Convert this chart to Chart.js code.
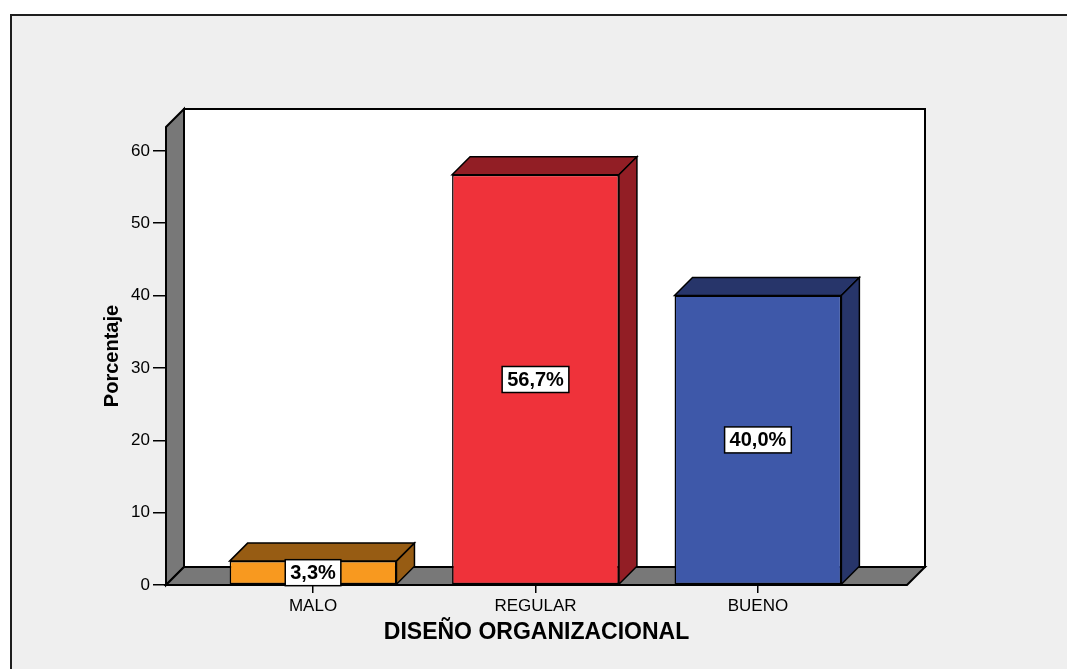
<!DOCTYPE html>
<html><head><meta charset="utf-8">
<script src="https://cdn.jsdelivr.net/npm/chart.js@4.4.0/dist/chart.umd.min.js"></script>
<style>html,body{margin:0;padding:0;background:#fff;overflow:hidden}</style>
</head><body>
<canvas id="c" width="1067" height="669" style="display:block;width:1067px;height:669px"></canvas>
<script>
const categories = ['MALO', 'REGULAR', 'BUENO'];
const percentages = [3.3, 56.7, 40.0];
const valueLabels = ['3,3%', '56,7%', '40,0%'];
const yTicks = [0, 10, 20, 30, 40, 50, 60];
const frontColors = ['#F8991F', '#EF323A', '#3E58A9'];
const shadeColors = ['#975C13', '#921E25', '#27356A'];

const FONT = "'Liberation Sans', Arial, sans-serif";
const DEPTH = 18;

const threeD = {
  id: 'threeD',
  beforeDraw(chart) {
    const ctx = chart.ctx;
    const ca = chart.chartArea;
    ctx.save();
    ctx.fillStyle = '#ffffff';
    ctx.fillRect(0, 0, chart.width, chart.height);
    ctx.fillStyle = '#efefef';
    ctx.fillRect(10, 14, chart.width, chart.height);
    ctx.strokeStyle = '#1e1e1e';
    ctx.lineWidth = 2;
    ctx.beginPath();
    ctx.moveTo(11, chart.height + 5);
    ctx.lineTo(11, 15);
    ctx.lineTo(chart.width + 5, 15);
    ctx.stroke();

    const L = ca.left, R = ca.right, T = ca.top, B = ca.bottom, D = DEPTH;
    // back wall
    ctx.fillStyle = '#ffffff';
    ctx.fillRect(L + D, T - D, R - L, B - T);
    ctx.strokeStyle = '#000';
    ctx.lineWidth = 2;
    ctx.strokeRect(L + D, T - D, R - L, B - T);
    // left wall
    ctx.fillStyle = '#787878';
    ctx.beginPath();
    ctx.moveTo(L, T); ctx.lineTo(L + D, T - D); ctx.lineTo(L + D, B - D); ctx.lineTo(L, B); ctx.closePath();
    ctx.fill(); ctx.stroke();
    // floor
    ctx.beginPath();
    ctx.moveTo(L, B); ctx.lineTo(L + D, B - D); ctx.lineTo(R + D, B - D); ctx.lineTo(R, B); ctx.closePath();
    ctx.fill(); ctx.stroke();
    ctx.restore();
  },
  afterDatasetsDraw(chart) {
    const ctx = chart.ctx;
    const meta = chart.getDatasetMeta(0);
    const D = DEPTH;
    ctx.save();
    ctx.lineWidth = 1.5;
    ctx.strokeStyle = '#000';
    ctx.lineJoin = 'miter';
    meta.data.forEach((bar, i) => {
      const p = bar.getProps(['x', 'y', 'base', 'width'], true);
      const x0 = p.x - p.width / 2, x1 = p.x + p.width / 2;
      const yt = p.y, yb = p.base;
      ctx.fillStyle = shadeColors[i];
      ctx.beginPath();
      ctx.moveTo(x0, yt); ctx.lineTo(x0 + D, yt - D); ctx.lineTo(x1 + D, yt - D); ctx.lineTo(x1, yt); ctx.closePath();
      ctx.fill(); ctx.stroke();
      ctx.beginPath();
      ctx.moveTo(x1, yt); ctx.lineTo(x1 + D, yt - D); ctx.lineTo(x1 + D, yb - D); ctx.lineTo(x1, yb); ctx.closePath();
      ctx.fill(); ctx.stroke();
    });
    ctx.font = 'bold 20px ' + FONT;
    ctx.textAlign = 'center';
    ctx.textBaseline = 'middle';
    meta.data.forEach((bar, i) => {
      const p = bar.getProps(['x', 'y', 'base'], true);
      const cy = (p.y + p.base) / 2;
      const w = ctx.measureText(valueLabels[i]).width + 10;
      const h = 26;
      ctx.fillStyle = '#ffffff';
      ctx.fillRect(p.x - w / 2, cy - h / 2, w, h);
      ctx.strokeStyle = '#000';
      ctx.lineWidth = 1.5;
      ctx.strokeRect(p.x - w / 2, cy - h / 2, w, h);
      ctx.fillStyle = '#000';
      ctx.fillText(valueLabels[i], p.x, cy + 1);
    });
    ctx.restore();
  }
};

new Chart(document.getElementById('c'), {
  type: 'bar',
  data: {
    datasets: [{
      data: percentages.map((v, i) => ({ x: i, y: v })),
      backgroundColor: frontColors,
      borderColor: '#000',
      borderWidth: 1.5,
      borderSkipped: false,
      barPercentage: 0.75,
      categoryPercentage: 1
    }]
  },
  options: {
    responsive: false,
    animation: false,
    devicePixelRatio: 1,
    layout: { padding: { left: 0, top: 127, right: 160, bottom: 0 } },
    plugins: { legend: { display: false }, tooltip: { enabled: false } },
    scales: {
      x: {
        type: 'linear',
        offset: false,
        min: -0.661,
        max: 2.67,
        afterBuildTicks(s) { s.ticks = categories.map((c, i) => ({ value: i })); },
        afterFit(s) { s.height = 84; },
        grid: { offset: false, drawOnChartArea: false, drawTicks: true, tickLength: 8, color: '#000', tickColor: '#000', lineWidth: 1.5 },
        border: { display: false },
        ticks: {
          callback: (v) => categories[v],
          font: { family: FONT, size: 17 },
          color: '#000',
          padding: 3,
          maxRotation: 0,
          autoSkip: false
        },
        title: {
          display: true,
          text: 'DISEÑO ORGANIZACIONAL',
          font: { family: FONT, size: 23, weight: 'bold' },
          color: '#000',
          padding: { top: 0, bottom: 23 }
        }
      },
      y: {
        min: 0,
        max: 63.3,
        afterBuildTicks(s) { s.ticks = yTicks.map(v => ({ value: v })); },
        afterFit(s) { s.width = 166; },
        grid: { drawOnChartArea: false, drawTicks: true, tickLength: 13, color: '#000', tickColor: '#000', lineWidth: 1.5 },
        border: { display: false },
        ticks: { font: { family: FONT, size: 17 }, color: '#000', padding: 3 },
        title: {
          display: true,
          text: 'Porcentaje',
          font: { family: FONT, size: 20, weight: 'bold' },
          color: '#000',
          padding: { top: 100, bottom: 0 }
        }
      }
    }
  },
  plugins: [threeD]
});
</script>
</body></html>
